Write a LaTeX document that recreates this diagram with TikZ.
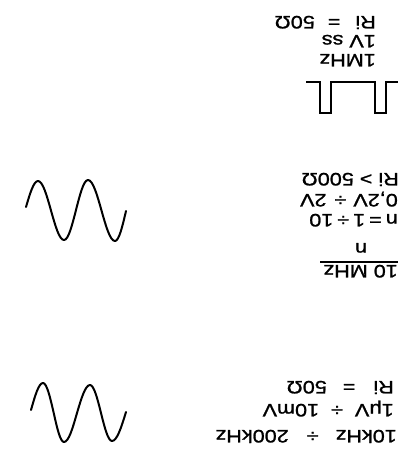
\documentclass[tikz,border=0pt]{standalone}
\usepackage{fontspec}
\setmainfont[FakeStretch=1.2,FakeBold=1.2]{Liberation Sans}
\begin{document}
\begin{tikzpicture}[x=1pt,y=-1pt,
  lbl/.style={rotate=180,anchor=base west,inner sep=0pt,font=\fontsize{18}{21}\selectfont},
  pulse/.style={line width=1.3pt,line join=miter},
  sig/.style={line width=2pt,line cap=round,line join=round},
  bar/.style={line width=1.2pt}]
\useasboundingbox (0,0) rectangle (413,472);
% ---------- top group: square wave ----------
\draw[pulse] (306,82) -- (320,82) -- (320,113) -- (331,113) -- (331,82)
  -- (375,82) -- (375,113) -- (386,113) -- (386,82) -- (398,82);
\node[lbl] (t1) at (376,16) {Ri\hspace{15pt}=\hspace{13pt}50Ω};
\node[lbl] (t2) at (376,35) {1V\hspace{6pt}ss};
\node[lbl] (t3) at (376,54) {1MHz};
% ---------- middle group ----------
\draw[sig] (26,207) sin (38,181) cos (51,210.5) sin (64,240) cos (76,210)
  sin (88,180) cos (101.5,210.5) sin (115,241) cos (126,211);
\node[lbl] (m1) at (399,173) {Ri\hspace{6pt}>\hspace{6pt}500Ω};
\node[lbl] (m2) at (398,194) {0,2V\hspace{7pt}÷\hspace{8pt}2V};
\node[lbl] (m3) at (398,214) {n\hspace{4pt}=\hspace{4pt}1\hspace{4pt}÷\hspace{4pt}10};
\node[lbl,anchor=base] (mn) at (361,243) {n};
\coordinate (fl) at (320,262);
\coordinate (fr) at (398,262);
\draw[bar] (fl) -- (fr);
\node[lbl] (m4) at (398,265) {10\hspace{6pt}MHz};
% ---------- bottom group ----------
\draw[sig] (31,410) sin (43,383) cos (53.5,412) sin (64,442) cos (77,413)
  sin (90,385) cos (101,413) sin (112,441) cos (126,412);
\node[lbl] (b1) at (394,381) {Ri\hspace{18pt}=\hspace{16pt}50Ω};
\node[lbl] (b2) at (394,404) {1μV\hspace{12pt}÷\hspace{12pt}10mV};
\node[lbl] (b3) at (397,430) {10kHz\hspace{17pt}÷\hspace{18pt}200kHz};
\end{tikzpicture}
\end{document}
